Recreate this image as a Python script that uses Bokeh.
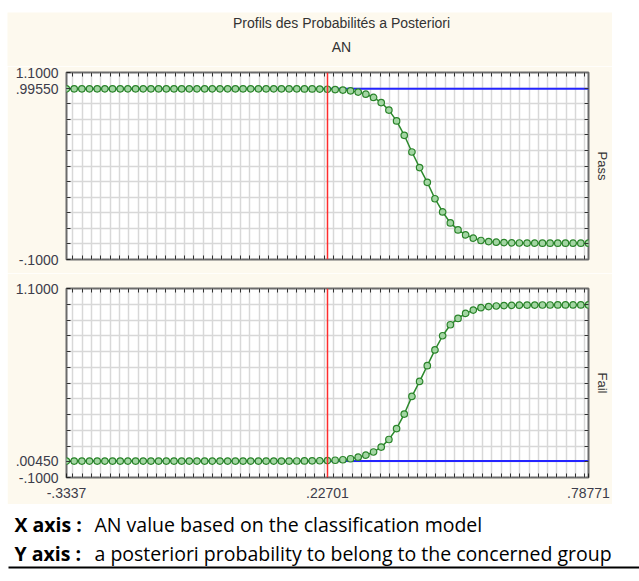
from bokeh.plotting import figure
from bokeh.models import FixedTicker, LinearAxis, Range1d, Span, Label, BoxAnnotation, Spacer
from bokeh.layouts import column, row
from bokeh.embed import file_html
from bokeh.resources import INLINE

# ---------------- data ----------------
X_AN = [-0.3337, -0.3172, -0.3007, -0.2842, -0.2677, -0.2512, -0.2348, -0.2183,
        -0.2018, -0.1853, -0.1688, -0.1523, -0.1358, -0.1193, -0.1028, -0.0863,
        -0.0698, -0.0533, -0.0369, -0.0204, -0.0039, 0.0126, 0.0291, 0.0456,
        0.0621, 0.0786, 0.0951, 0.1116, 0.1281, 0.1445, 0.1610, 0.1775,
        0.1940, 0.2105, 0.2270, 0.2435, 0.2600, 0.2765, 0.2930, 0.3095,
        0.3260, 0.3424, 0.3589, 0.3754, 0.3919, 0.4084, 0.4249, 0.4414,
        0.4579, 0.4744, 0.4909, 0.5074, 0.5238, 0.5403, 0.5568, 0.5733,
        0.5898, 0.6063, 0.6228, 0.6393, 0.6558, 0.6723, 0.6888, 0.7052,
        0.7217, 0.7382, 0.7547, 0.7712, 0.7877]

PASS = [0.9955, 0.9955, 0.9955, 0.9955, 0.9955, 0.9955, 0.9955, 0.9955,
        0.9955, 0.9955, 0.9955, 0.9955, 0.9955, 0.9955, 0.9955, 0.9955,
        0.9955, 0.9955, 0.9955, 0.9955, 0.9955, 0.9955, 0.9955, 0.9955,
        0.9955, 0.9955, 0.9955, 0.9955, 0.9955, 0.9955, 0.9951, 0.9948,
        0.9944, 0.9937, 0.9925, 0.9906, 0.9874, 0.9823, 0.9741, 0.9608,
        0.9398, 0.9073, 0.8587, 0.7894, 0.6971, 0.5900, 0.4900, 0.3950,
        0.2900, 0.2050, 0.1350, 0.0900, 0.0580, 0.0370, 0.0220, 0.0150,
        0.0110, 0.0085, 0.0070, 0.0060, 0.0054, 0.0050, 0.0048, 0.0047,
        0.0046, 0.0045, 0.0045, 0.0045, 0.0045]

FAIL = [0.0045, 0.0045, 0.0045, 0.0045, 0.0045, 0.0045, 0.0045, 0.0045,
        0.0045, 0.0045, 0.0045, 0.0045, 0.0045, 0.0045, 0.0045, 0.0045,
        0.0045, 0.0045, 0.0045, 0.0045, 0.0045, 0.0045, 0.0045, 0.0045,
        0.0045, 0.0045, 0.0045, 0.0045, 0.0045, 0.0045, 0.0049, 0.0052,
        0.0056, 0.0063, 0.0075, 0.0094, 0.0126, 0.0190, 0.0290, 0.0420,
        0.0620, 0.0930, 0.1413, 0.2106, 0.3029, 0.4149, 0.5100, 0.6100,
        0.7100, 0.8000, 0.8700, 0.9100, 0.9420, 0.9630, 0.9780, 0.9850,
        0.9890, 0.9915, 0.9930, 0.9940, 0.9946, 0.9950, 0.9952, 0.9953,
        0.9954, 0.9955, 0.9955, 0.9955, 0.9955]

X_TICKS = [-0.3337, 0.22701, 0.78771]
X_TICK_LABELS = ["-.3337", ".22701", ".78771"]
PASS_Y_TICKS = [-0.1, 0.9955, 1.1]
PASS_Y_LABELS = ["-.1000", ".99550", "1.1000"]
FAIL_Y_TICKS = [-0.1, 0.0045, 1.1]
FAIL_Y_LABELS = ["-.1000", ".00450", "1.1000"]
CUT_VALUE = 0.22701
PASS_LEVEL = 0.9955
FAIL_LEVEL = 0.0045

TITLE = "Profils des Probabilités a Posteriori"
SUBTITLE = "AN"
CAPTION_X_BOLD = "X axis :"
CAPTION_X = "AN value based on the classification model"
CAPTION_Y_BOLD = "Y axis :"
CAPTION_Y = "a posteriori probability to belong to the concerned group"

# ---------------- styling ----------------
CREAM = "#fdf9ee"
FONT = "Liberation Sans"
LABEL_COLOR = "#3c3c4a"
XGRID = [round(-0.32 + 0.02 * i, 2) for i in range(56)]
YGRID = [round(0.1 * i, 1) for i in range(11)]
X_LO, X_HI = -0.3337, 0.78771
Y_LO, Y_HI = -0.1, 1.1
LEFT_GAP = 7
BORDER_L, BORDER_R = 66 - LEFT_GAP, 23
PANEL_W = BORDER_L + 523 + BORDER_R


def tick_axis(ticks, minor, labels=None, standoff=0):
    ax = LinearAxis(ticker=FixedTicker(ticks=ticks, minor_ticks=minor))
    ax.axis_line_color = None
    ax.major_tick_in = 4
    ax.major_tick_out = 0
    ax.minor_tick_in = 4
    ax.minor_tick_out = 0
    ax.major_tick_line_color = "#222222"
    ax.minor_tick_line_color = "#333333"
    ax.major_label_standoff = standoff
    ax.major_label_text_font = FONT
    ax.major_label_text_color = LABEL_COLOR
    ax.major_label_text_font_size = "14px"
    if labels is not None:
        ax.major_label_overrides = dict(zip(ticks, labels))
    return ax


def panel(yvals, yticks, ylabels, level, name, height, b_top, b_bottom, show_x):
    p = figure(width=PANEL_W, height=height, output_backend="svg",
               toolbar_location=None,
               x_range=Range1d(X_LO, X_HI), y_range=Range1d(Y_LO, Y_HI),
               x_axis_location=None, y_axis_location=None,
               min_border_left=BORDER_L, min_border_right=BORDER_R,
               min_border_top=b_top, min_border_bottom=b_bottom,
               background_fill_color="white", border_fill_color=CREAM,
               outline_line_color="#6b6b6b", outline_line_width=2)
    p.frame_align = False
    p.xgrid.ticker = FixedTicker(ticks=XGRID)
    p.ygrid.ticker = FixedTicker(ticks=YGRID)
    p.grid.grid_line_color = "#d8d8d8"
    p.grid.grid_line_width = 1.5

    p.add_layout(tick_axis(yticks, YGRID, ylabels, standoff=8), "left")
    right = tick_axis([], YGRID)
    right.axis_label = name
    right.axis_label_text_font = FONT
    right.axis_label_text_font_size = "13px"
    right.axis_label_text_font_style = "normal"
    right.axis_label_text_color = "#333333"
    right.axis_label_standoff = 6
    right.axis_label_orientation = "vertical"
    p.add_layout(right, "right")
    p.add_layout(tick_axis([], XGRID), "above")
    if show_x:
        p.add_layout(tick_axis(X_TICKS, XGRID, X_TICK_LABELS, standoff=10), "below")
    else:
        p.add_layout(tick_axis([], XGRID), "below")

    p.add_layout(Span(location=level, dimension="width", line_color="#2424ff",
                      line_width=2, level="underlay"))
    p.line(X_AN, yvals, line_color="#2d8a2d", line_width=1.5)
    p.scatter(X_AN, yvals, marker="circle", size=6.5, line_color="#2a842a",
              fill_color="#a3d6a3", line_width=1.2)
    p.add_layout(Span(location=CUT_VALUE, dimension="height", line_color="#ff2d2d",
                      line_width=1.5))
    return p


def blank(width, height, fill):
    f = figure(width=width, height=height, x_range=Range1d(0, 1), y_range=Range1d(0, 1),
               output_backend="svg", toolbar_location=None,
               min_border_left=0, min_border_right=0, min_border_top=0, min_border_bottom=0,
               outline_line_color=None, background_fill_color=fill,
               border_fill_color=fill, x_axis_location=None, y_axis_location=None)
    f.frame_align = False
    f.grid.visible = False
    return f


# title strip (page y 12..66)
head = blank(PANEL_W, 54, CREAM)
for txt, page_y in [(TITLE, 22), (SUBTITLE, 46)]:
    head.add_layout(Label(x=341 - LEFT_GAP, y=66 - page_y, x_units="screen", y_units="screen",
                          text=txt, text_font=FONT, text_font_size="14px",
                          text_color="#333333", text_align="center",
                          text_baseline="middle"))

top = panel(PASS, PASS_Y_TICKS, PASS_Y_LABELS, PASS_LEVEL, "Pass", 207, 6, 14, False)
bottom = panel(FAIL, FAIL_Y_TICKS, FAIL_Y_LABELS, FAIL_LEVEL, "Fail", 231, 15, 27, True)

# caption strip (page y 504..581)
cap = blank(639, 77, "white")
for (bold, txt, page_y) in [(CAPTION_X_BOLD, CAPTION_X, 524), (CAPTION_Y_BOLD, CAPTION_Y, 553)]:
    cap.add_layout(Label(x=14, y=581 - page_y, x_units="screen", y_units="screen",
                         text=bold, text_font="Open Sans", text_font_size="19.5px",
                         text_font_style="bold", text_baseline="middle", text_color="black"))
    cap.add_layout(Label(x=94, y=581 - page_y, x_units="screen", y_units="screen",
                         text=txt, text_font="Open Sans", text_font_size="19.5px",
                         text_baseline="middle", text_color="black"))
cap.add_layout(BoxAnnotation(left=8, right=639, bottom=13, top=15,
                             left_units="screen", right_units="screen",
                             bottom_units="screen", top_units="screen",
                             fill_color="black", fill_alpha=1, line_color=None))

chart = row(Spacer(width=LEFT_GAP), column(head, top, bottom, spacing=0), spacing=0)
layout = column(Spacer(height=12), chart, cap, spacing=0)
open("out.html", "w").write(file_html(layout, INLINE))
